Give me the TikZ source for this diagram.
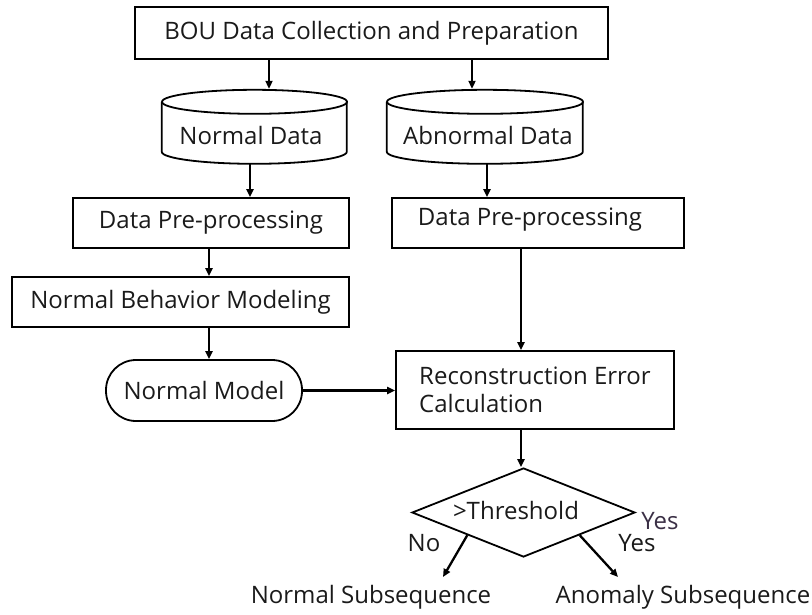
\documentclass[tikz,border=0pt]{standalone}
\usepackage{fontspec}
\setmainfont{Open Sans}
\usetikzlibrary{shapes.geometric,arrows.meta,calc}
\definecolor{txt}{HTML}{1A1A1A}
\definecolor{yescol}{HTML}{3A2F45}
\tikzset{
  box/.style={draw=black, line width=1.8pt, rectangle, inner sep=0pt, font=\fontsize{24}{28}\selectfont, text=txt},
  cylbox/.style={draw=none, rectangle, inner sep=0pt},
  cyl/.style={line width=1.8pt},
  arr/.style={draw=black, line width=2.3pt, -{Triangle[length=8pt,width=7pt]}},
  lbl/.style={font=\fontsize{24}{28}\selectfont, text=txt, inner sep=0pt}
}
\begin{document}
\begin{tikzpicture}[x=1pt,y=-1pt]
\useasboundingbox (0,0) rectangle (812,614);
% nodes
\node[box, minimum width=473pt, minimum height=52pt] (top) at (371.5,33) {BOU Data Collection and Preparation};
\node[cylbox, minimum width=185pt, minimum height=74pt] (nd) at (254.5,126) {};
\node[lbl] at (251,135) {Normal Data};
\node[cylbox, minimum width=196pt, minimum height=74pt] (ad) at (485,126) {};
\node[lbl] at (488,135) {Abnormal Data};
\node[box, minimum width=276pt, minimum height=50pt] (dp1) at (211,223) {Data Pre-processing};
\node[box, minimum width=292pt, minimum height=50pt, label={[lbl,xshift=-8pt,yshift=3pt]center:Data Pre-processing}] (dp2) at (538,223) {};
\node[box, minimum width=337pt, minimum height=50pt] (nbm) at (180.5,302) {Normal Behavior Modeling};
\node[box, minimum width=196pt, minimum height=61pt, rounded corners=30pt] (nm) at (204,390.5) {Normal Model};
\node[box, minimum width=278pt, minimum height=78pt, align=left] (rec) at (535,390) {Reconstruction Error\\Calculation};
\node[box, shape=diamond, aspect=2.5, minimum width=223pt, minimum height=89pt] (dia) at (523.5,512.5) {};
\node[lbl] at (516,510) {>Threshold};
\node[lbl] (nsub) at (371,597) {Normal Subsequence};
\node[lbl] (asub) at (683,597) {Anomaly Subsequence};
\node[lbl] (no) at (424,543) {No};
\node[lbl] (yes1) at (637,543) {Yes};
\node[lbl, text=yescol] (yes2) at (660,521) {Yes};
% cylinders
\draw[cyl] (nd.north west) ++(0,13) -- ++(0,50) arc[start angle=180,end angle=360,x radius=92.5pt,y radius=12pt] -- ++(0,-50);
\draw[cyl] (nd.north) ++(0,13) ellipse[x radius=92.5pt, y radius=12pt];
\draw[cyl] (ad.north west) ++(0,13) -- ++(0,50) arc[start angle=180,end angle=360,x radius=98pt,y radius=12pt] -- ++(0,-50);
\draw[cyl] (ad.north) ++(0,13) ellipse[x radius=98pt, y radius=12pt];
% coordinates
\coordinate (c1) at (269,0);
\coordinate (c2) at (472,0);
\coordinate (c3) at (250,0);
\coordinate (c4) at (487,0);
\coordinate (c5) at (209,0);
\coordinate (c6) at (521,0);
\coordinate (noend) at (443,577);
\coordinate (yesend) at (618,577);
% connectors
\draw[arr] (top.south -| c1) -- (nd.north -| c1);
\draw[arr] (top.south -| c2) -- (ad.north -| c2);
\draw[arr] (nd.south -| c3) -- (dp1.north -| c3);
\draw[arr] (ad.south -| c4) -- (dp2.north -| c4);
\draw[arr] (dp1.south -| c5) -- (nbm.north -| c5);
\draw[arr] (nbm.south -| c5) -- (nm.north -| c5);
\draw[arr] (dp2.south -| c6) -- (rec.north -| c6);
\draw[arr] (nm.east) -- (rec.west |- nm.east);
\draw[arr] (rec.south -| c6) -- (dia.north -| c6);
\draw[arr] (dia.south west) -- (noend);
\draw[arr] (dia.south east) -- (yesend);
\end{tikzpicture}
\end{document}
